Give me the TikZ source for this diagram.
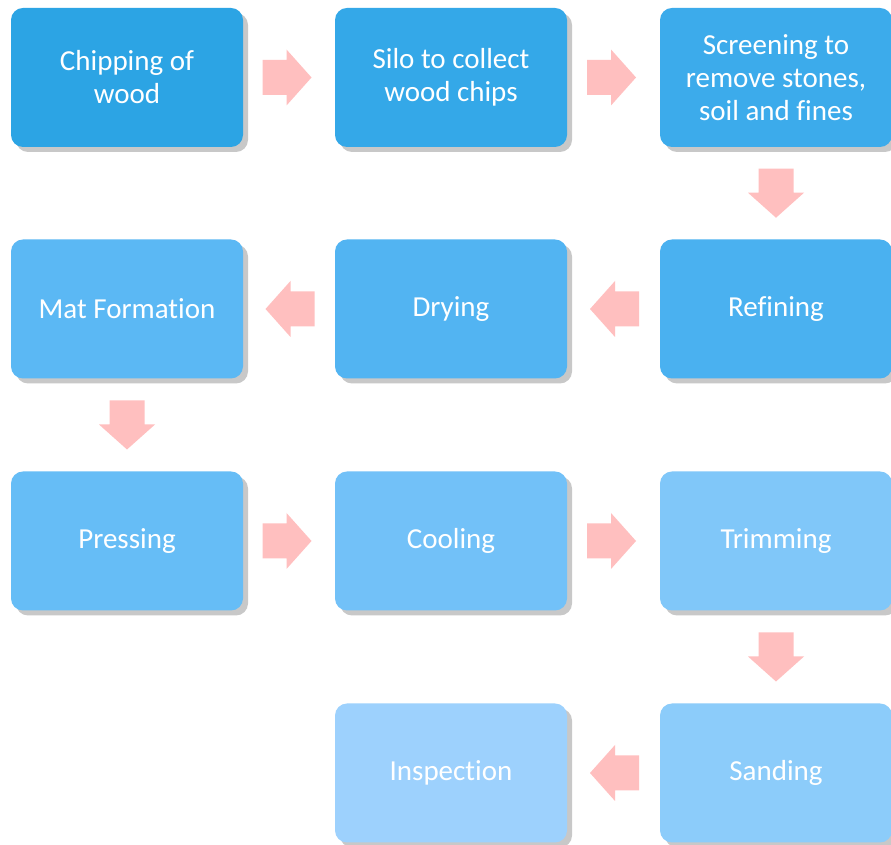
\documentclass[tikz,border=0pt]{standalone}
\usepackage{fontspec}
\setmainfont{Carlito}[Ligatures=NoCommon]
\usetikzlibrary{calc,shadows}
\definecolor{c1}{HTML}{2CA4E4}
\definecolor{c2}{HTML}{34A8E8}
\definecolor{c3}{HTML}{3CABEB}
\definecolor{c4}{HTML}{4AB1F0}
\definecolor{c5}{HTML}{52B4F2}
\definecolor{c6}{HTML}{5BB8F4}
\definecolor{c7}{HTML}{66BDF6}
\definecolor{c8}{HTML}{72C1F8}
\definecolor{c9}{HTML}{80C7F9}
\definecolor{c10}{HTML}{8CCCFA}
\definecolor{c11}{HTML}{9DD1FD}
\definecolor{arrowpink}{HTML}{FFBFBF}
\definecolor{shadowgray}{HTML}{C8C8C8}
\tikzset{
  stepbox/.style={rectangle, rounded corners=12pt, minimum width=232pt, minimum height=139pt,
    inner sep=0pt, align=center, text=white, font=\fontsize{29}{33}\selectfont,
    drop shadow={shadow xshift=5pt, shadow yshift=-5pt, fill=shadowgray, opacity=1}},
  arrowfill/.style={fill=arrowpink}
}
\newcommand\fatarrow[2]{\fill[arrowfill, shift={#1}, rotate=#2]
  (-24.5,-17.5) -- (-0.5,-17.5) -- (-0.5,-28) -- (24.5,0) -- (-0.5,28) -- (-0.5,17.5) -- (-24.5,17.5) -- cycle;}
\begin{document}
\begin{tikzpicture}[x=1pt,y=1pt]
\useasboundingbox (0,0) rectangle (891,845);
\fill[white] (0,0) rectangle (891,845);
% row 1
\node[stepbox, fill=c1] (chip) at (127,767.5) {Chipping of\\wood};
\node[stepbox, fill=c2] (silo) at (451,767.5) {Silo to collect\\wood chips};
\node[stepbox, fill=c3] (screen) at (776,767.5) {Screening to\\remove stones,\\soil and fines};
% row 2
\node[stepbox, fill=c6] (mat) at (127,536) {Mat Formation};
\node[stepbox, fill=c5] (dry) at (451,536) {Drying};
\node[stepbox, fill=c4] (refine) at (776,536) {Refining};
% row 3
\node[stepbox, fill=c7] (press) at (127,304) {Pressing};
\node[stepbox, fill=c8] (cool) at (451,304) {Cooling};
\node[stepbox, fill=c9] (trim) at (776,304) {Trimming};
% row 4
\node[stepbox, fill=c11] (insp) at (451,72) {Inspection};
\node[stepbox, fill=c10] (sand) at (776,72) {Sanding};
% arrows
\fatarrow{($(chip.east)!0.5!(silo.west)+(-2,0)$)}{0}
\fatarrow{($(silo.east)!0.5!(screen.west)+(-2,0)$)}{0}
\fatarrow{($(screen.south)!0.5!(refine.north)$)}{-90}
\fatarrow{($(refine.west)!0.5!(dry.east)+(1,0)$)}{180}
\fatarrow{($(dry.west)!0.5!(mat.east)+(1,0)$)}{180}
\fatarrow{($(mat.south)!0.5!(press.north)$)}{-90}
\fatarrow{($(press.east)!0.5!(cool.west)+(-2,0)$)}{0}
\fatarrow{($(cool.east)!0.5!(trim.west)+(-2,0)$)}{0}
\fatarrow{($(trim.south)!0.5!(sand.north)$)}{-90}
\fatarrow{($(sand.west)!0.5!(insp.east)+(1,0)$)}{180}
\end{tikzpicture}
\end{document}
